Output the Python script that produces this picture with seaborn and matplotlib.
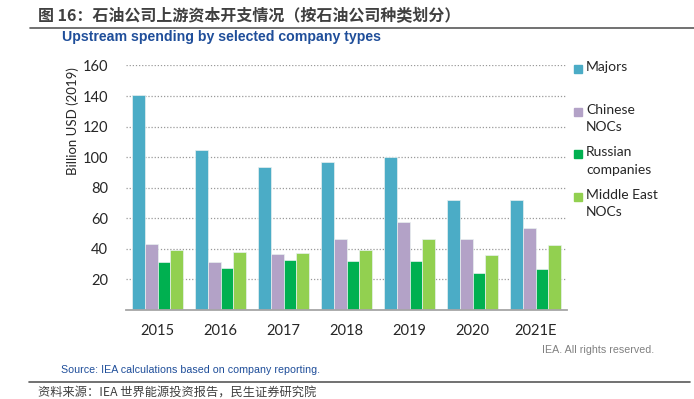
import matplotlib
matplotlib.use("Agg")
import matplotlib.pyplot as plt
from matplotlib.patches import Rectangle
from matplotlib.lines import Line2D
import seaborn as sns
import pandas as pd

# Chart data (billion USD, 2019 prices)
years = ["2015", "2016", "2017", "2018", "2019", "2020", "2021E"]
companies = ["Majors", "Chinese\nNOCs", "Russian\ncompanies", "Middle East\nNOCs"]
majors = [141, 104.5, 93.3, 96.7, 99.8, 71.7, 71.7]
chinese_nocs = [43, 31.4, 36.6, 46.2, 57.5, 46.6, 53.4]
russian = [31.6, 27.7, 33, 32.2, 32.2, 24.2, 26.6]
middle_east_nocs = [39, 38, 37, 39.2, 46.2, 36, 42.7]
colors = ["#4bacc6", "#b3a2c7", "#00b050", "#92d050"]
y_ticks = [20, 40, 60, 80, 100, 120, 140, 160]

df = pd.DataFrame({
    "Year": years * 4,
    "Company": [c for c in companies for _ in years],
    "Value": majors + chinese_nocs + russian + middle_east_nocs,
})

sns.set_style("white")
plt.rcParams["font.family"] = ["Lato", "Noto Sans CJK SC", "DejaVu Sans"]
cjk = ["Noto Sans CJK SC", "DejaVu Sans"]

fig = plt.figure(figsize=(6.94, 3.99), dpi=100)
ax = fig.add_axes([126 / 694, 1 - 310 / 399, 441 / 694, 244.5 / 399])

sns.barplot(data=df, x="Year", y="Value", hue="Company", palette=colors,
            saturation=1, width=0.8, edgecolor="#e8f0f0", linewidth=0.5,
            legend=False, ax=ax)

ax.set_ylim(0, 160)
ax.set_yticks(y_ticks)
ax.yaxis.grid(True, linestyle=(0, (1, 1.5)), color="#9a9a9a", linewidth=0.9)
ax.set_axisbelow(True)
for side in ["left", "right", "top"]:
    ax.spines[side].set_visible(False)
ax.spines["bottom"].set_color("#a6a6a6")
ax.spines["bottom"].set_linewidth(1.3)
ax.tick_params(axis="y", length=0, pad=13, labelsize=10.5, labelcolor="#262626")
ax.tick_params(axis="x", length=0, pad=10, labelsize=10.5, labelcolor="#262626")
ax.set_xlabel("")
ax.set_ylabel("")

fig.text(73 / 694, 1 - 121.5 / 399, "Billion USD (2019)", rotation=90,
         ha="center", va="center", fontsize=9.5, color="#262626")

# Legend drawn by hand so the square sits next to the first line
for i, (name, color) in enumerate(zip(companies, colors)):
    y = 1 - (69 + i * 42.6) / 399
    fig.patches.append(Rectangle((574 / 694, y - 4 / 399), 8 / 694, 8 / 399,
                                 transform=fig.transFigure, color=color))
    fig.text(586 / 694, y + 8 / 399, name, ha="left", va="top", fontsize=10,
             color="#262626", linespacing=1.55)

# Header and footer of the report page
fig.text(38 / 694, 1 - 15 / 399, "图 16：石油公司上游资本开支情况（按石油公司种类划分）",
         family=cjk, fontsize=11.5, fontweight="bold", color="#404040",
         ha="left", va="center")
fig.add_artist(Line2D([30 / 694, 1], [1 - 28 / 399, 1 - 28 / 399],
                      transform=fig.transFigure, color="#595959", linewidth=1.2))
fig.text(62 / 694, 1 - 37.5 / 399, "Upstream spending by selected company types",
         family="Liberation Sans", fontsize=10.2, fontweight="bold", color="#1f4e9a",
         ha="left", va="center")

fig.text(654 / 694, 1 - 350 / 399, "IEA. All rights reserved.",
         family="Liberation Sans", fontsize=7.7, color="#808080", ha="right", va="center")
fig.text(61 / 694, 1 - 370 / 399, "Source: IEA calculations based on company reporting.",
         family="Liberation Sans", fontsize=7.7, color="#1f4e9a", ha="left", va="center")
fig.add_artist(Line2D([29 / 694, 690 / 694], [1 - 382 / 399, 1 - 382 / 399],
                      transform=fig.transFigure, color="#595959", linewidth=1.2))
fig.text(38 / 694, 1 - 393 / 399, "资料来源：IEA 世界能源投资报告，民生证券研究院",
         family=cjk, fontsize=8.8, color="#404040", ha="left", va="center")

fig.savefig("out.png", dpi=100)
